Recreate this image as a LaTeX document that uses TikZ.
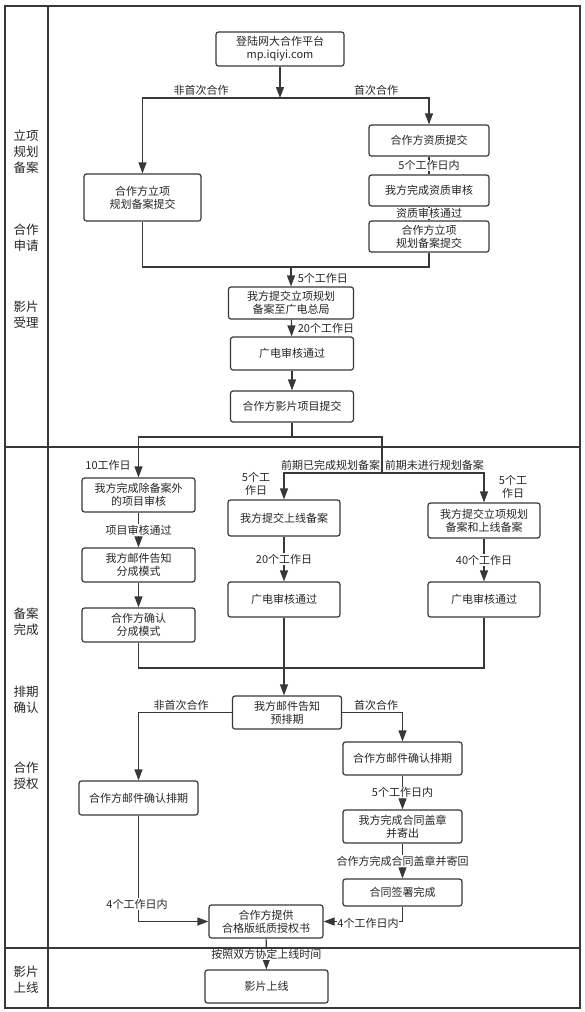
\documentclass[tikz,border=0pt]{standalone}
\usepackage{fontspec}
\setmainfont{Noto Sans CJK SC}
\usetikzlibrary{arrows.meta}
\definecolor{ln}{HTML}{383838}
\definecolor{tx}{HTML}{262626}
\newcommand\fs{\fontsize{11}{13}\selectfont}
\newcommand\fsside{\fontsize{12.5}{16}\selectfont}
\begin{document}
\begin{tikzpicture}[x=1pt,y=-1pt,
  box/.style={draw=ln, line width=1.2pt, rounded corners=2.5pt, fill=white, align=center, inner sep=1pt, font=\fs, text=tx},
  lbl/.style={fill=white, inner sep=0.6pt, font=\fs, text=tx, align=center},
  plain/.style={inner sep=0.6pt, font=\fs, text=tx, align=center},
  side/.style={inner sep=0pt, font=\fsside, text=tx, align=center},
  conn/.style={draw=ln, line width=1.2pt},
  ar/.style={-{Triangle[length=11pt,width=8pt]}},
  frame/.style={draw=ln, line width=1.3pt}]
\useasboundingbox (0,0) rectangle (584,1012);
\fill[white] (0,0) rectangle (584,1012);

% ---------- section 1 ----------
\node[box,minimum width=128pt,minimum height=34pt] (top) at (280,49) {登陆网大合作平台\\mp.iqiyi.com};
\coordinate (j1) at (280,98);
\node[box,minimum width=117pt,minimum height=47pt] (L1) at (142.5,197.5) {合作方立项\\规划备案提交};
\node[box,minimum width=120pt,minimum height=31pt] (R1) at (429,140.5) {合作方资质提交};
\node[box,minimum width=120pt,minimum height=31pt] (R2) at (429,190.5) {我方完成资质审核};
\node[box,minimum width=120pt,minimum height=31pt] (R3) at (429,236.5) {合作方立项\\规划备案提交};
\node[box,minimum width=125pt,minimum height=32pt] (M1) at (291,303) {我方提交立项规划\\备案至广电总局};
\node[box,minimum width=123pt,minimum height=33pt] (M2) at (292,353.5) {广电审核通过};
\node[box,minimum width=123pt,minimum height=31pt] (M3) at (292,406.5) {合作方影片项目提交};

\draw[conn,ar] (top) -- (j1);
\draw[conn,ar] (j1) -| (L1);
\draw[conn,ar] (j1) -| (R1);
\node[plain] (t1) at (201,90) {非首次合作};
\node[plain] (t2) at (376,90) {首次合作};
\draw[conn] (R1) -- node[lbl]{5个工作日内} (R2);
\draw[conn] (R2) -- node[lbl]{资质审核通过} (R3);
\coordinate (j2) at (291,267);
\draw[conn] (L1.south) -- (L1.south |- j2) -- (R3.south |- j2) -- (R3.south);
\draw[conn,ar] (j2) -- (M1);
\node[plain,anchor=west] (t3) at (297,278) {5个工作日};
\draw[conn,ar] (M1) -- (M2);
\node[plain,anchor=west] (t4) at (297,328) {20个工作日};
\draw[conn,ar] (M2) -- (M3);

% ---------- section 2 ----------
\coordinate (j3) at (292,437);
\coordinate (j4) at (382,473);
\node[box,minimum width=113pt,minimum height=34pt] (A1) at (138.5,495) {我方完成除备案外\\的项目审核};
\node[box,minimum width=113pt,minimum height=34pt] (A2) at (138.5,565) {我方邮件告知\\分成模式};
\node[box,minimum width=113pt,minimum height=34pt] (A3) at (138.5,625) {合作方确认\\分成模式};
\node[box,minimum width=112pt,minimum height=36pt] (B1) at (284,518) {我方提交上线备案};
\node[box,minimum width=112pt,minimum height=35pt] (B2) at (284,599.5) {广电审核通过};
\node[box,minimum width=112pt,minimum height=35pt] (C1) at (484,520.5) {我方提交立项规划\\备案和上线备案};
\node[box,minimum width=112pt,minimum height=35pt] (C2) at (484,599.5) {广电审核通过};

\draw[conn] (M3) -- (j3);
\draw[conn,ar] (j3) -| (A1);
\draw[conn] (j3) -| (j4);
\draw[conn,ar] (j4) -| (B1);
\draw[conn,ar] (j4) -| (C1);
\node[plain] (t5) at (108,465) {10工作日};
\node[plain,anchor=east] (t6) at (381,465) {前期已完成规划备案};
\node[plain,anchor=west] (t7) at (384,465) {前期未进行规划备案};
\node[plain] (t8) at (256,484) {5个工\\作日};
\node[plain] (t9) at (513,487) {5个工\\作日};
\draw[conn,ar] (A1) -- node[lbl]{项目审核通过} (A2);
\draw[conn,ar] (A2) -- (A3);
\draw[conn,ar] (B1) -- node[lbl]{20个工作日} (B2);
\draw[conn,ar] (C1) -- node[lbl]{40个工作日} (C2);

% ---------- section 3 ----------
\node[box,minimum width=109pt,minimum height=33pt] (D1) at (287,712.5) {我方邮件告知\\预排期};
\node[box,minimum width=119pt,minimum height=34pt] (E1) at (138.5,798) {合作方邮件确认排期};
\node[box,minimum width=119pt,minimum height=33pt] (F1) at (402.5,758.5) {合作方邮件确认排期};
\node[box,minimum width=119pt,minimum height=33pt] (F2) at (402.5,826.5) {我方完成合同盖章\\并寄出};
\node[box,minimum width=119pt,minimum height=27pt] (F3) at (402.5,892.5) {合同签署完成};
\node[box,minimum width=114pt,minimum height=33pt] (G) at (266,921.5) {合作方提供\\合格版纸质授权书};
\node[box,minimum width=123pt,minimum height=33pt] (H) at (266.5,986.5) {影片上线};

\draw[conn] (A3.south) -- (A3.south |- 0,668) -- (C2.south |- 0,668) -- (C2.south);
\draw[conn,ar] (B2.south) -- (B2.south |- D1.north);
\draw[conn,ar] (D1) -| (E1);
\draw[conn,ar] (D1) -| (F1);
\node[plain] (t10) at (181,705) {非首次合作};
\node[plain] (t11) at (376,705) {首次合作};
\draw[conn,ar] (F1) -- node[lbl]{5个工作日内} (F2);
\draw[conn,ar] (F2) -- node[lbl]{合作方完成合同盖章并寄回} (F3);
\draw[conn,ar] (E1) |- (G);
\draw[conn,ar] (F3) |- (G);
\node[lbl] (t12) at (137,904) {4个工作日内};
\node[lbl] (t13) at (368,923) {4个工作日内};
\draw[conn,ar] (G) -- node[lbl,pos=0.5]{按照双方协定上线时间} (H);

% ---------- side labels ----------
\node[side] (s1) at (26,152) {立项\\规划\\备案};
\node[side] (s2) at (26,238) {合作\\申请};
\node[side] (s3) at (26,315) {影片\\受理};
\node[side] (s4) at (26,622) {备案\\完成};
\node[side] (s5) at (26,700) {排期\\确认};
\node[side] (s6) at (26,776) {合作\\授权};
\node[side] (s7) at (26,980) {影片\\上线};

% ---------- frame ----------
\draw[frame] (5,6) rectangle (580,1008);
\draw[frame] (48,6) -- (48,1008);
\draw[frame] (5,447) -- (580,447);
\draw[frame] (5,948) -- (580,948);
\end{tikzpicture}
\end{document}
